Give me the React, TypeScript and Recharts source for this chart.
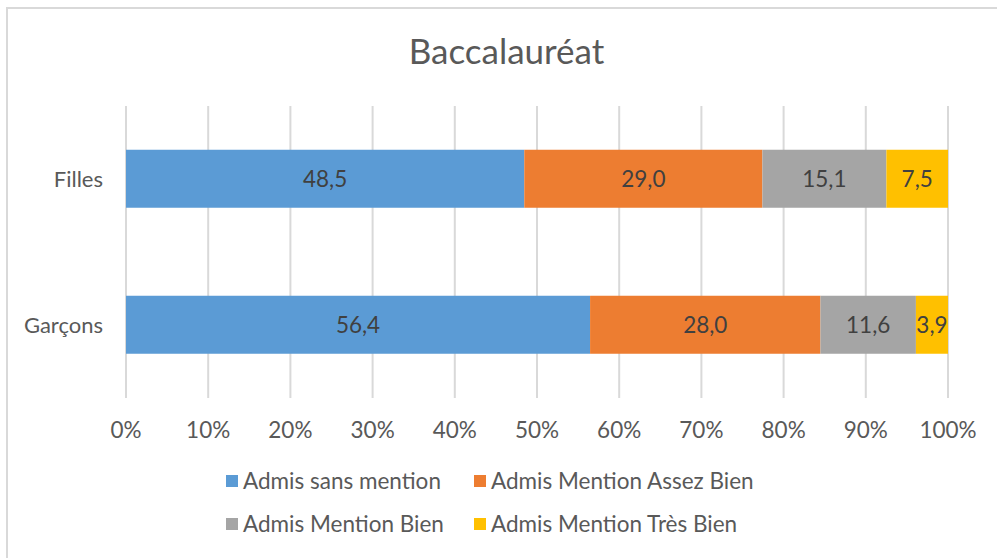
import { BarChart, Bar, XAxis, YAxis, CartesianGrid, LabelList } from 'recharts';

// Baccalauréat — 100% stacked horizontal bars

const categories = ['Filles', 'Garçons'];
const sansMention = [48.5, 56.4];
const assezBien = [29.0, 28.0];
const bien = [15.1, 11.6];
const tresBien = [7.5, 3.9];
const xTicks = [0, 0.1, 0.2, 0.3, 0.4, 0.5, 0.6, 0.7, 0.8, 0.9, 1];

const series = [
  { key: 'sansMention', name: 'Admis sans mention', color: '#5B9BD5' },
  { key: 'assezBien', name: 'Admis Mention Assez Bien', color: '#ED7D31' },
  { key: 'bien', name: 'Admis Mention Bien', color: '#A5A5A5' },
  { key: 'tresBien', name: 'Admis Mention Très Bien', color: '#FFC000' },
];

const data = categories.map((group, i) => ({
  group,
  sansMention: sansMention[i],
  assezBien: assezBien[i],
  bien: bien[i],
  tresBien: tresBien[i],
}));

const FONT = 'Lato, "Noto Sans", sans-serif';
const TEXT = '#595959';

const fmt = (v: any) => Number(v).toFixed(1).replace('.', ',');

function YTick({ y, payload }: any) {
  return (
    <text x={103} y={y} dy={8} textAnchor="end" fontSize={22} fill={TEXT} fontFamily={FONT}>
      {payload.value}
    </text>
  );
}

function XTick({ x, payload }: any) {
  return (
    <text x={x} y={398 + 40} textAnchor="middle" fontSize={22.5} fill={TEXT} fontFamily={FONT}>
      {Math.round(payload.value * 100)}%
    </text>
  );
}

export default function App() {
  return (
    <div style={{ position: 'absolute', left: 0, top: 0, width: 997, height: 558, overflow: 'hidden', background: '#fff', fontFamily: FONT }}>
      <div style={{ position: 'absolute', left: 6, top: 7, width: 1010, height: 570, border: '2px solid #d9d9d9' }} />
      <div style={{ position: 'absolute', left: 0, width: 1013, top: 29, textAlign: 'center', fontSize: 35, color: TEXT }}>
        Baccalauréat
      </div>
      <div style={{ position: 'absolute', left: 0, top: 0 }}>
        <BarChart
          width={997}
          height={558}
          data={data}
          layout="vertical"
          stackOffset="expand"
          barCategoryGap="30%"
          margin={{ top: 106, right: 49, bottom: 120, left: 0 }}
        >
          <CartesianGrid horizontal={false} stroke="#d9d9d9" strokeWidth={2} />
          <XAxis type="number" domain={[0, 1]} ticks={xTicks} tick={<XTick />} tickLine={false} axisLine={false} height={40} interval={0} />
          <YAxis type="category" dataKey="group" width={126} tick={<YTick />} tickLine={false} axisLine={false} />
          {series.map((s) => (
            <Bar key={s.key} dataKey={s.key} stackId="a" fill={s.color} isAnimationActive={false}>
              <LabelList dataKey={s.key} position="center" formatter={fmt} fill="#404040" fontSize={22.5} fontFamily={FONT} />
            </Bar>
          ))}
        </BarChart>
      </div>
      {series.map((s, i) => (
        <div
          key={s.key}
          style={{
            position: 'absolute',
            left: i % 2 === 0 ? 226 : 474,
            top: i < 2 ? 467 : 510,
            display: 'flex',
            alignItems: 'center',
            fontSize: 22.5,
            color: TEXT,
            whiteSpace: 'nowrap',
          }}
        >
          <span style={{ display: 'inline-block', width: 12, height: 12, background: s.color, marginRight: 5 }} />
          {s.name}
        </div>
      ))}
    </div>
  );
}
